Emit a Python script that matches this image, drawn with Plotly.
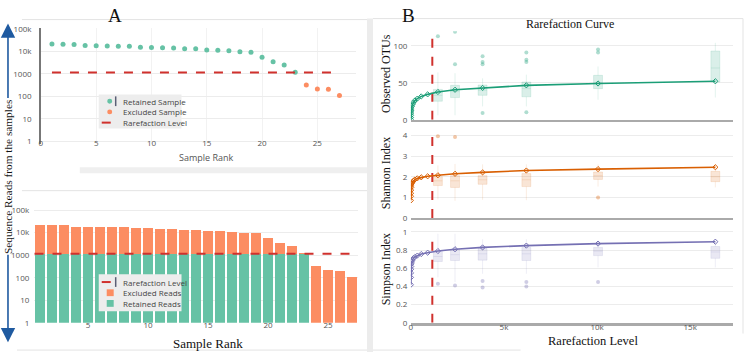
import plotly.graph_objects as go

W, H = 746, 358

# ---------------- data ----------------
sample_rank = list(range(1, 28))
sample_reads = [22000, 21500, 21000, 18500, 18300, 17800, 17500, 17300, 15500, 15300,
                15000, 14300, 13500, 13300, 11800, 11500, 11000, 9800, 9300, 5600,
                3500, 2500, 1180, 320, 215, 205, 110]
rarefaction_level = 1150

depths = [1, 4, 7, 12, 19, 31, 50, 82, 132, 213, 345, 555, 900, 1450, 2370, 3850, 6200, 10050, 16350]
otu_mean = [0.5, 3, 6, 9, 12, 15, 18, 20.5, 23, 26, 28.5, 31.5, 34.3, 37.5, 40.5, 43, 46.5, 49, 52]
shannon_mean = [0.85, 1.05, 1.2, 1.35, 1.48, 1.58, 1.67, 1.74, 1.8, 1.86, 1.92, 1.97, 2.02, 2.07,
                2.14, 2.21, 2.3, 2.37, 2.46]
simpson_mean = [0.42, 0.5, 0.55, 0.59, 0.62, 0.65, 0.67, 0.69, 0.71, 0.725, 0.74, 0.757, 0.772,
                0.79, 0.81, 0.83, 0.85, 0.872, 0.893]

box_depths = [1450, 2370, 3850, 6200, 10050, 16350]
otu_q1 = [25, 30, 33, 31, 42, 51]
otu_med = [33, 38, 40, 42, 50, 70]
otu_q3 = [41, 46.5, 47, 51, 60, 93]
otu_lo = [6, 6, 18, 18, 27, 30]
otu_hi = [64, 63, 56, 61, 72, 104]
otu_out_x = [1450, 2370, 2370, 3850, 3850, 3850, 3850, 6200, 6200, 6200, 6200, 10050, 10050]
otu_out_y = [113, 119, 75, 86, 78, 75, 9, 91, 81, 78, 10, 95, 91]

sh_q1 = [1.57, 1.48, 1.63, 1.52, 1.87, 1.76]
sh_med = [1.8, 1.8, 1.85, 1.85, 2.05, 2.0]
sh_q3 = [2.0, 2.05, 2.05, 2.15, 2.23, 2.26]
sh_lo = [0.9, 0.83, 0.88, 0.86, 1.52, 1.48]
sh_hi = [2.55, 2.62, 2.6, 2.6, 2.6, 2.6]
sh_out_x = [1450, 2370, 10050]
sh_out_y = [3.96, 3.93, 0.99]

si_q1 = [0.675, 0.686, 0.69, 0.686, 0.74, 0.71]
si_med = [0.73, 0.75, 0.76, 0.76, 0.79, 0.78]
si_q3 = [0.786, 0.81, 0.82, 0.83, 0.83, 0.84]
si_lo = [0.5, 0.45, 0.54, 0.54, 0.61, 0.61]
si_hi = [0.98, 0.98, 0.92, 0.92, 0.9, 0.9]
si_out_x = [1450, 2370, 3850, 3850, 6200, 6200, 10050]
si_out_y = [0.43, 0.41, 0.46, 0.39, 0.45, 0.40, 0.45]

line_tops = [113, 4.0, 0.93]  # extent of the rarefaction marker line in each panel

legend_top = ["Retained Sample", "Excluded Sample", "Rarefaction Level"]
legend_bottom = ["Rarefaction Level", "Excluded Reads", "Retained Reads"]

# ---------------- helpers ----------------
def fx(p):
    return p / W

def fy(p):
    return 1 - p / H

TEAL = "#66c2a5"
ORANGE = "#fc8d62"
RED = "#d0312d"
C_OTU = "#1b9e77"
C_SH = "#d95f02"
C_SI = "#7570b3"
SANS = "Open Sans, Arial, sans-serif"
SERIF = "Liberation Serif, Times New Roman, serif"
TICKF = dict(family=SANS, size=8, color="#555")

def rgba(hexc, a):
    h = hexc.lstrip("#")
    return "rgba(%d,%d,%d,%s)" % (int(h[0:2], 16), int(h[2:4], 16), int(h[4:6], 16), a)

fig = go.Figure()

# ---------------- A top: scatter ----------------
ret_x = [r for r, v in zip(sample_rank, sample_reads) if v >= rarefaction_level]
ret_y = [v for v in sample_reads if v >= rarefaction_level]
exc_x = [r for r, v in zip(sample_rank, sample_reads) if v < rarefaction_level]
exc_y = [v for v in sample_reads if v < rarefaction_level]

fig.add_trace(go.Scatter(x=ret_x, y=ret_y, mode="markers", name=legend_top[0],
                         marker=dict(color=TEAL, size=5), xaxis="x", yaxis="y"))
fig.add_trace(go.Scatter(x=exc_x, y=exc_y, mode="markers", name=legend_top[1],
                         marker=dict(color=ORANGE, size=5), xaxis="x", yaxis="y"))
fig.add_trace(go.Scatter(x=[sample_rank[0], sample_rank[-1]], y=[rarefaction_level] * 2,
                         mode="lines", name=legend_top[2],
                         line=dict(color=RED, width=2, dash="dash"), xaxis="x", yaxis="y"))

# ---------------- A bottom: stacked bars ----------------
retained_reads = [rarefaction_level if v >= rarefaction_level else None for v in sample_reads]
excluded_reads = [v - rarefaction_level if v >= rarefaction_level else v for v in sample_reads]

fig.add_trace(go.Bar(x=sample_rank, y=retained_reads, name=legend_bottom[2],
                     marker=dict(color=TEAL, line=dict(width=0)), xaxis="x2", yaxis="y2"))
fig.add_trace(go.Bar(x=sample_rank, y=excluded_reads, name=legend_bottom[1],
                     marker=dict(color=ORANGE, line=dict(width=0)), xaxis="x2", yaxis="y2"))
fig.add_trace(go.Scatter(x=[sample_rank[0] - 0.45, sample_rank[-1] - 0.2], y=[rarefaction_level] * 2,
                         mode="lines", name=legend_bottom[0],
                         line=dict(color=RED, width=2, dash="dash"), xaxis="x2", yaxis="y2"))

# ---------------- B: rarefaction curves ----------------
panels = [
    ("x3", "y3", C_OTU, otu_mean, otu_q1, otu_med, otu_q3, otu_lo, otu_hi, otu_out_x, otu_out_y, line_tops[0]),
    ("x4", "y4", C_SH, shannon_mean, sh_q1, sh_med, sh_q3, sh_lo, sh_hi, sh_out_x, sh_out_y, line_tops[1]),
    ("x5", "y5", C_SI, simpson_mean, si_q1, si_med, si_q3, si_lo, si_hi, si_out_x, si_out_y, line_tops[2]),
]
for xa, ya, col, mean, q1, med, q3, lo, hi, ox, oy, top in panels:
    fig.add_trace(go.Box(x=box_depths, q1=q1, median=med, q3=q3, lowerfence=lo, upperfence=hi,
                         width=480, fillcolor=rgba(col, 0.16), line=dict(color=rgba(col, 0.12), width=1),
                         whiskerwidth=0, xaxis=xa, yaxis=ya, hoverinfo="skip"))
    fig.add_trace(go.Scatter(x=ox, y=oy, mode="markers", marker=dict(color=rgba(col, 0.35), size=4),
                             xaxis=xa, yaxis=ya, hoverinfo="skip"))
    fig.add_trace(go.Scatter(x=[rarefaction_level] * 2, y=[0, top], mode="lines",
                             line=dict(color=RED, width=2, dash="dash"), xaxis=xa, yaxis=ya,
                             hoverinfo="skip"))
    fig.add_trace(go.Scatter(x=depths, y=mean, mode="lines+markers",
                             line=dict(color=col, width=1.6),
                             marker=dict(symbol="diamond-open", size=4, color=col, line=dict(width=1)),
                             xaxis=xa, yaxis=ya, hoverinfo="skip"))

# ---------------- axes ----------------
grid = "#ececec"
common_y = dict(tickfont=TICKF, gridcolor=grid, zeroline=False, ticks="outside",
                tickcolor="rgba(0,0,0,0)")
layout = dict(
    xaxis=dict(domain=[fx(39), fx(355)], range=[0, 28.5], dtick=5, tickfont=TICKF,
               gridcolor="#f2f2f2", zeroline=False, anchor="y", ticklabelstandoff=-7),
    yaxis=dict(domain=[fy(143), fy(24)], type="log", range=[-0.13, 5.04], dtick=1,
               anchor="x", showline=True, linecolor="#777", linewidth=1.5, ticklen=6, **common_y),
    xaxis2=dict(domain=[fx(32), fx(357)], range=[0.5, 27.5], dtick=5, tickfont=TICKF,
                showgrid=False, zeroline=False, anchor="y2", ticklabelstandoff=-4),
    yaxis2=dict(domain=[fy(327), fy(207)], type="log", range=[0, 5.17], dtick=1,
                anchor="x2", ticklen=2, **common_y),
)
bx = dict(range=[0, 17300], domain=[fx(410), fx(733)], showgrid=False, zeroline=False,
          showline=True, linecolor="#aaa", tickfont=TICKF)
layout["xaxis3"] = dict(anchor="y3", showticklabels=False, linewidth=1.5, matches="x5", **bx)
layout["xaxis4"] = dict(anchor="y4", showticklabels=False, linewidth=1.5, matches="x5", **bx)
layout["xaxis5"] = dict(anchor="y5", dtick=5000, linewidth=2.5, ticklabelstandoff=-5, **bx)
layout["yaxis3"] = dict(anchor="x3", domain=[fy(118), fy(27)], range=[0, 119.7], dtick=50,
                        ticklen=1, **common_y)
layout["yaxis4"] = dict(anchor="x4", domain=[fy(219), fy(122)], range=[0, 4.58], dtick=1,
                        ticklen=1, **common_y)
layout["yaxis5"] = dict(anchor="x5", domain=[fy(327), fy(229)], range=[0, 1.048], dtick=0.2,
                        ticklen=1, **common_y)

fig.update_layout(**layout)

# ---------------- decorations: card borders + compact legends ----------------
shapes = []
def rect(x0, y0, x1, y1, fill, layer="below"):
    shapes.append(dict(type="rect", xref="paper", yref="paper", x0=fx(x0), x1=fx(x1),
                       y0=fy(y1), y1=fy(y0), fillcolor=fill, line=dict(width=0), layer=layer))
def hline(x0, x1, y, col="#e3e3e3", w=1, dash="solid", layer="below"):
    shapes.append(dict(type="line", xref="paper", yref="paper", x0=fx(x0), x1=fx(x1),
                       y0=fy(y), y1=fy(y), line=dict(color=col, width=w, dash=dash), layer=layer))
def vline(x, y0, y1, col="#e3e3e3", w=1, layer="below"):
    shapes.append(dict(type="line", xref="paper", yref="paper", x0=fx(x), x1=fx(x),
                       y0=fy(y0), y1=fy(y1), line=dict(color=col, width=w), layer=layer))
def dot(cx, cy, r, col):
    shapes.append(dict(type="circle", xref="paper", yref="paper", x0=fx(cx - r), x1=fx(cx + r),
                       y0=fy(cy + r), y1=fy(cy - r), fillcolor=col, line=dict(width=0), layer="above"))

rect(366, 14, 372, 357, "#ececec")
rect(78, 167, 366, 173, "#efefef")
hline(20, 366, 15)
hline(20, 366, 191)
hline(15, 366, 355)
hline(372, 743, 14)
hline(372, 520, 355)
vline(743, 14, 338)

ann = []
def text(x, y, s, size, family=SERIF, color="#111", angle=0, xanchor="center"):
    ann.append(dict(x=fx(x), y=fy(y), xref="paper", yref="paper", text=s, showarrow=False,
                    font=dict(family=family, size=size, color=color), textangle=angle,
                    xanchor=xanchor, yanchor="middle"))

# legend A-top
rect(97, 92, 180, 127, "#ededed", layer="above")
rows_top = [99, 110, 121]
dot(108, rows_top[0], 2.5, TEAL)
vline(114, rows_top[0] - 5, rows_top[0] + 5, col="#5a5f75", w=1.5, layer="above")
dot(108, rows_top[1], 2.5, ORANGE)
hline(100, 116, rows_top[2], col=RED, w=2, dash="dash", layer="above")
for r, s in zip(rows_top, legend_top):
    text(119, r, s, 8, family=SANS, color="#444", xanchor="left")

# legend A-bottom
rect(97, 277, 180, 315, "#ededed", layer="above")
rows_bot = [285, 296, 307]
hline(100, 113, rows_bot[0], col=RED, w=2, dash="dash", layer="above")
vline(114, rows_bot[0] - 5, rows_bot[0] + 5, col="#5a5f75", w=1.5, layer="above")
rect(105, rows_bot[1] - 3.5, 112, rows_bot[1] + 3.5, ORANGE, layer="above")
rect(105, rows_bot[2] - 3.5, 112, rows_bot[2] + 3.5, TEAL, layer="above")
for r, s in zip(rows_bot, legend_bottom):
    text(119, r, s, 8, family=SANS, color="#444", xanchor="left")

fig.update_layout(shapes=shapes)

# ---------------- text annotations ----------------
text(113, 11, "A", 19)
text(408, 11, "B", 19)
text(570, 20, "Rarefaction Curve", 12)
text(6, 177, "Sequence Reads from the samples", 11.3, angle=-90)
text(205, 157, "Sample Rank", 9, family=SANS, color="#555")
text(207, 348, "Sample Rank", 13)
text(593, 346, "Rarefaction Level", 12.5)
text(385, 70, "Observed OTUs", 12, angle=-90)
text(385, 173, "Shannon Index", 12, angle=-90)
text(385, 272, "Simpson Index", 12, angle=-90)

# arrows
for tip_y, off in [(19, 76), (347, -89)]:
    ann.append(dict(x=fx(6), y=fy(tip_y), xref="paper", yref="paper", text="", showarrow=True,
                    ax=0, ay=off, arrowcolor="#1f5aa0", arrowwidth=1.6, arrowhead=2, arrowsize=1.8))
fig.update_layout(annotations=ann)

fig.update_layout(width=W, height=H, margin=dict(l=0, r=0, t=0, b=0),
                  paper_bgcolor="white", plot_bgcolor="white", barmode="stack", bargap=0.2,
                  showlegend=False, hovermode=False)

fig.write_html("out.html", config={"displayModeBar": False},
               post_script="document.body.style.margin='0';document.body.style.overflow='hidden';")
